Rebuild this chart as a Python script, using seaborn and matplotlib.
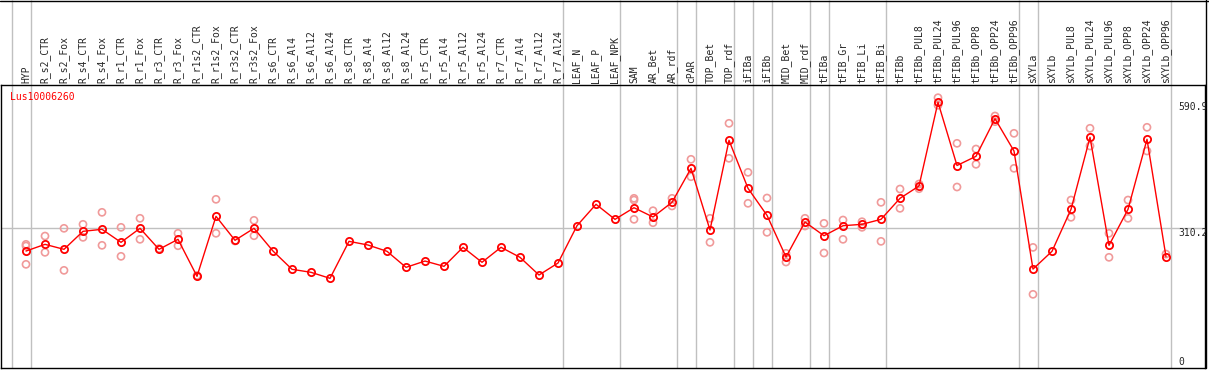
import numpy as np
import pandas as pd
import seaborn as sns
import matplotlib.pyplot as plt

gene = "Lus10006260"

samples = [
    "HYP", "R_s2_CTR", "R_s2_Fox", "R_s4_CTR", "R_s4_Fox", "R_r1_CTR", "R_r1_Fox",
    "R_r3_CTR", "R_r3_Fox", "R_r1s2_CTR", "R_r1s2_Fox", "R_r3s2_CTR", "R_r3s2_Fox",
    "R_s6_CTR", "R_s6_Al4", "R_s6_Al12", "R_s6_Al24", "R_s8_CTR", "R_s8_Al4",
    "R_s8_Al12", "R_s8_Al24", "R_r5_CTR", "R_r5_Al4", "R_r5_Al12", "R_r5_Al24",
    "R_r7_CTR", "R_r7_Al4", "R_r7_Al12", "R_r7_Al24", "LEAF_N", "LEAF_P", "LEAF_NPK",
    "SAM", "AR_Bet", "AR_rdf", "cPAR", "TOP_Bet", "TOP_rdf", "iFIBa", "iFIBb",
    "MID_Bet", "MID_rdf", "tFIBa", "tFIB_Gr", "tFIB_Li", "tFIB_Bi", "tFIBb",
    "tFIBb_PUL8", "tFIBb_PUL24", "tFIBb_PUL96", "tFIBb_OPP8", "tFIBb_OPP24", "tFIBb_OPP96",
    "sXYLa", "sXYLb", "sXYLb_PUL8", "sXYLb_PUL24", "sXYLb_PUL96", "sXYLb_OPP8",
    "sXYLb_OPP24", "sXYLb_OPP96",
]

# sizes of the sample groups separated by grey lines
group_sizes = [1, 28, 3, 3, 1, 2, 1, 1, 2, 1, 3, 7, 1, 7]

mean_expr = [
    259.5, 274.4, 263.3, 303.4, 307.9, 278.9, 310.1, 263.3, 285.6, 203.2, 336.8, 283.4, 310.1,
    259.5, 218.8, 212.1, 198.7, 281.1, 272.9, 258.9, 223.2, 237.2, 225.4, 267.8, 234.4,
    267.8, 245.5, 206.1, 232.8, 315.9, 363.6, 330.1,
    356.0, 335.3, 368.0, 443.7, 306.3, 506.1, 399.2, 339.0, 246.2, 324.1, 293.6, 315.9,
    319.0, 330.1, 376.9, 404.3, 590.9, 450.0, 470.5, 554.2, 482.3,
    219.3, 258.9, 352.4, 512.8, 272.2, 352.4, 508.4, 246.8,
]

nan = np.nan
rep_a = [
    274.4, 292.9, 310.1, 319.0, 345.7, 312.3, 332.4, 265.0, 299.0, 205.0, 374.7, 281.8, 327.9,
    nan, nan, nan, nan, nan, nan, nan, nan, nan, nan, nan, nan,
    nan, nan, nan, nan, nan, nan, nan,
    376.9, 349.3, 376.9, 463.8, 332.4, 544.0, 434.8, 377.6, 254.4, 332.4, 321.2, 328.6,
    324.8, 368.0, 397.6, 408.8, 601.0, 499.4, 486.7, 560.3, 521.7,
    267.6, nan, 373.1, 532.9, 299.0, 373.1, 535.1, 252.8,
]
rep_b = [
    229.9, 256.6, 216.5, 290.0, 272.2, 247.7, 285.6, nan, 271.3, nan, 299.0, nan, 293.6,
    nan, nan, nan, nan, nan, nan, nan, nan, nan, nan, nan, nan,
    nan, nan, nan, nan, nan, nan, nan,
    330.1, 322.6, 359.8, 425.0, 278.9, 466.0, 365.8, 301.2, 235.0, 315.2, 255.1, 285.6,
    312.3, 281.1, 354.6, 398.3, 584.1, 402.1, 452.7, 547.6, 443.7,
    163.1, nan, 334.6, 493.4, 245.5, 332.4, 482.3, nan,
]
rep_c = [
    270.7, nan, nan, nan, nan, nan, nan, nan, nan, nan, nan, nan, nan,
    nan, nan, nan, nan, nan, nan, nan, nan, nan, nan, nan, nan,
    nan, nan, nan, nan, nan, nan, nan,
    373.1, nan, nan, nan, nan, nan, nan, nan, nan, nan, nan, nan,
    nan, nan, nan, nan, nan, nan, nan, nan, nan,
    nan, nan, nan, nan, nan, nan, nan, nan,
]

axis_marks = [590.9, 310.2, 0]
ref_line = 310.2

sns.set_style("white")
plt.rcParams["font.family"] = ["DejaVu Sans Mono"]

W, H = 1209, 370
fig = plt.figure(figsize=(W / 100, H / 100), dpi=100)
ax = fig.add_axes([1 / W, 2 / H, 1204 / W, 283 / H])

idx = np.arange(len(samples))
df = pd.DataFrame({"pos": idx, "mean": mean_expr})
reps = pd.DataFrame({"pos": np.tile(idx, 3), "value": rep_a + rep_b + rep_c}).dropna()

# group separators and reference line
bounds = np.concatenate([[0], np.cumsum(group_sizes)]) - 0.75
ax.vlines(bounds, 0, 368 / 283, transform=ax.get_xaxis_transform(),
          colors="#c0c0c0", lw=1, clip_on=False, zorder=0)
ax.axhline(ref_line, color="#c0c0c0", lw=1, zorder=0)

sns.scatterplot(data=reps, x="pos", y="value", marker="o", s=26, facecolors="none",
                edgecolor="#f09a9a", linewidth=1.2, ax=ax, zorder=2)
sns.lineplot(data=df, x="pos", y="mean", color="#ff0000", lw=1, marker="o", ms=5.2,
             mfc="none", mec="#ff0000", mew=1.3, ax=ax, zorder=3)

ax.set_xlim((1 - 26) / 19, (1205 - 26) / 19)
ax.set_ylim(-1, 629.3)
ax.xaxis.tick_top()
ax.set_xticks(idx)
ax.set_xticklabels(samples, rotation=90, fontsize=7)
ax.tick_params(axis="x", length=0, pad=1.5)
ax.set_yticks([])
ax.set_xlabel("")
ax.set_ylabel("")
for sp in ax.spines.values():
    sp.set_color("black")
    sp.set_linewidth(1)

for v in axis_marks:
    dy = 4.2 if v == 0 else -3.2
    ax.annotate(f"{v:g}" if v == 0 else f"{v:.1f}", xy=(1177 / 1204, v),
                xycoords=ax.get_yaxis_transform(), xytext=(0, dy),
                textcoords="offset points", ha="left", va="center", fontsize=7)

ax.text(9 / 1204, (368 - 97) / 283, gene, transform=ax.transAxes, color="red",
        fontsize=7, ha="left", va="center")

# outer frame above the plot: top border and right border
fig.add_artist(plt.Line2D([0, 1], [1 - 0.5 / H, 1 - 0.5 / H], color="black", lw=1))
fig.add_artist(plt.Line2D([1205.5 / W, 1205.5 / W], [2 / H, 1], color="black", lw=1))

fig.savefig("out.png", dpi=100)
